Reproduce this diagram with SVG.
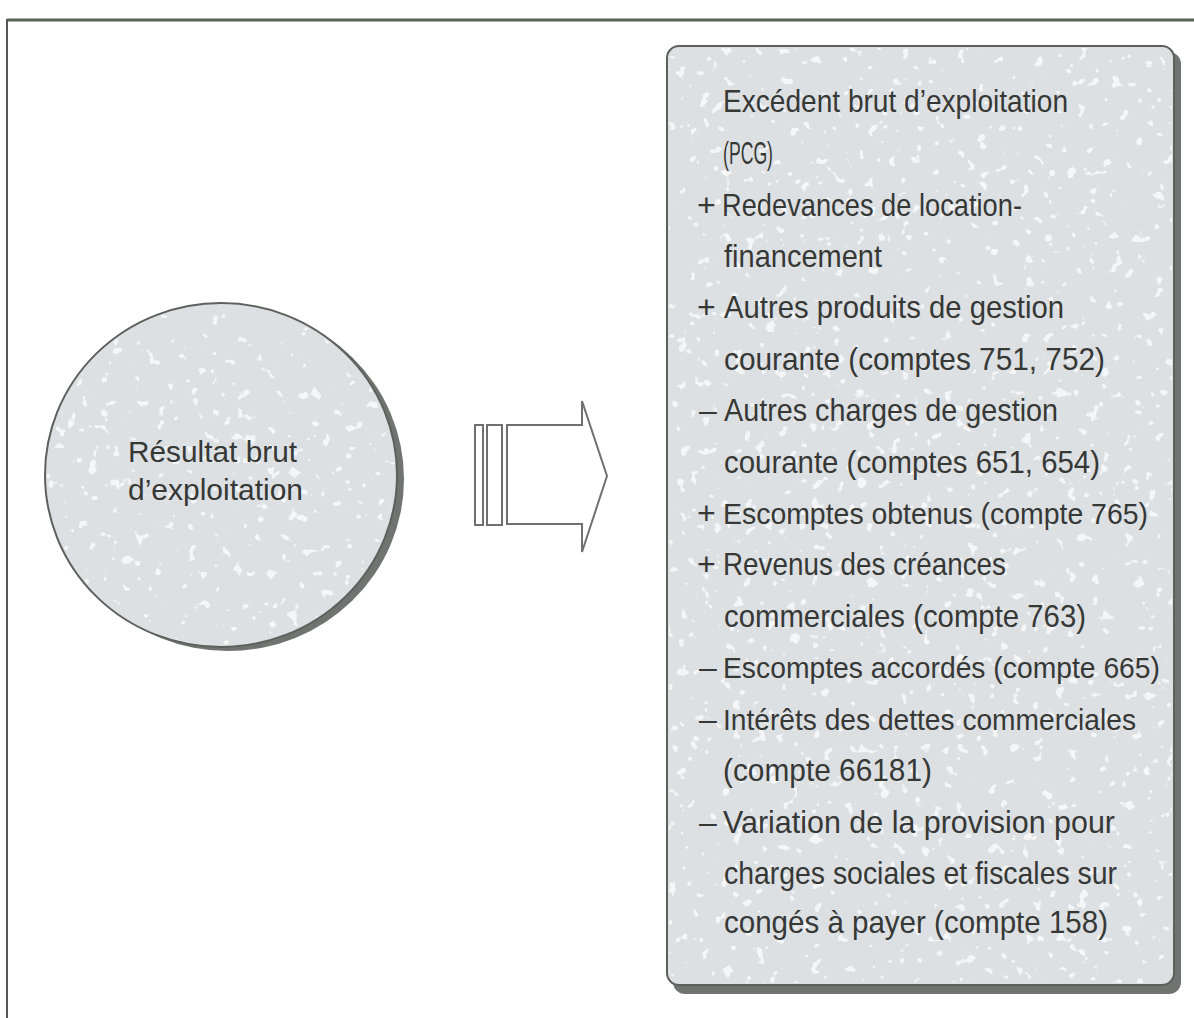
<svg xmlns="http://www.w3.org/2000/svg" width="1194" height="1018" viewBox="0 0 1194 1018">
  <style>
    .t { font-family: "Liberation Sans Narrow", "Liberation Sans", Arial, sans-serif; fill: #363836; }
    .bt { font-size: 32px; }
    .bs { font-size: 29px; }
    .ct { font-size: 30px; }
    .shadow { fill: #6f7470; }
    .face { fill: #dde0e3; stroke: #5d615d; stroke-width: 2; }
    .arrow { fill: #ffffff; stroke: #707070; stroke-width: 2; stroke-linejoin: miter; }
  </style>
  <defs>
    <filter id="speck" x="0" y="0" width="100%" height="100%">
      <feTurbulence type="fractalNoise" baseFrequency="0.09" numOctaves="2" seed="7"/>
      <feColorMatrix type="matrix" values="0 0 0 0 1  0 0 0 0 1  0 0 0 0 1  22 0 0 0 -14.6"/>
    </filter>
    <clipPath id="clipCircle"><ellipse cx="221" cy="475" rx="174" ry="170"/></clipPath>
    <clipPath id="clipBox"><rect x="669" y="48" width="503" height="935" rx="11"/></clipPath>
  </defs>
  <rect x="0" y="0" width="1194" height="1018" fill="#ffffff"/>
  <!-- frame -->
  <g id="frame">
    <line x1="7" y1="20" x2="1194" y2="20" stroke="#5a6358" stroke-width="3"/>
    <line x1="7" y1="19" x2="7" y2="1018" stroke="#555955" stroke-width="2"/>
  </g>

  <!-- circle node -->
  <g id="node-resultat">
    <ellipse class="shadow" cx="228" cy="479" rx="176" ry="172"/>
    <ellipse class="face" cx="221" cy="475" rx="176" ry="172"/>
    <rect x="45" y="303" width="352" height="345" filter="url(#speck)" clip-path="url(#clipCircle)" opacity="0.7"/>
    <text class="t ct" x="128" y="462" textLength="169" lengthAdjust="spacingAndGlyphs">Résultat brut</text>
    <text class="t ct" x="128" y="500" textLength="175" lengthAdjust="spacingAndGlyphs">d’exploitation</text>
  </g>

  <!-- connector: block arrow -->
  <g id="connectors">
    <rect class="arrow" x="475" y="425" width="8" height="100"/>
    <rect class="arrow" x="487" y="425" width="15" height="100"/>
    <polygon class="arrow" points="507,425 582,425 582,401 607,476 582,552 582,524 507,524"/>
  </g>

  <!-- box node -->
  <g id="node-ebe">
    <rect class="shadow" x="673" y="52" width="508" height="942" rx="12"/>
    <rect class="face" x="667" y="46" width="507" height="939" rx="12"/>
    <rect x="667" y="46" width="507" height="939" filter="url(#speck)" clip-path="url(#clipBox)" opacity="0.7"/>
    <text class="t bt" x="723" y="112" textLength="345" lengthAdjust="spacingAndGlyphs">Excédent brut d’exploitation</text>
    <text class="t bt" x="723" y="164" textLength="50" lengthAdjust="spacingAndGlyphs">(PCG)</text>
    <text class="t bt" x="697" y="216">+</text>
    <text class="t bt" x="722" y="216" textLength="300" lengthAdjust="spacingAndGlyphs">Redevances de location-</text>
    <text class="t bt" x="724" y="267" textLength="158" lengthAdjust="spacingAndGlyphs">financement</text>
    <text class="t bt" x="697" y="318">+</text>
    <text class="t bt" x="724" y="318" textLength="340" lengthAdjust="spacingAndGlyphs">Autres produits de gestion</text>
    <text class="t bt" x="724" y="370" textLength="381" lengthAdjust="spacingAndGlyphs">courante (comptes 751, 752)</text>
    <text class="t bt" x="699" y="421">–</text>
    <text class="t bt" x="724" y="421" textLength="334" lengthAdjust="spacingAndGlyphs">Autres charges de gestion</text>
    <text class="t bt" x="724" y="473" textLength="376" lengthAdjust="spacingAndGlyphs">courante (comptes 651, 654)</text>
    <text class="t bt" x="697" y="524">+</text>
    <text class="t bs" x="723" y="524" textLength="425" lengthAdjust="spacingAndGlyphs">Escomptes obtenus (compte 765)</text>
    <text class="t bt" x="697" y="575">+</text>
    <text class="t bt" x="723" y="575" textLength="283" lengthAdjust="spacingAndGlyphs">Revenus des créances</text>
    <text class="t bt" x="724" y="627" textLength="362" lengthAdjust="spacingAndGlyphs">commerciales (compte 763)</text>
    <text class="t bt" x="699" y="678">–</text>
    <text class="t bs" x="723" y="678" textLength="437" lengthAdjust="spacingAndGlyphs">Escomptes accordés (compte 665)</text>
    <text class="t bt" x="699" y="730">–</text>
    <text class="t bs" x="723" y="730" textLength="413" lengthAdjust="spacingAndGlyphs">Intérêts des dettes commerciales</text>
    <text class="t bt" x="723" y="781" textLength="209" lengthAdjust="spacingAndGlyphs">(compte 66181)</text>
    <text class="t bt" x="699" y="833">–</text>
    <text class="t bt" x="723" y="833" textLength="392" lengthAdjust="spacingAndGlyphs">Variation de la provision pour</text>
    <text class="t bt" x="724" y="884" textLength="393" lengthAdjust="spacingAndGlyphs">charges sociales et fiscales sur</text>
    <text class="t bt" x="724" y="933" textLength="384" lengthAdjust="spacingAndGlyphs">congés à payer (compte 158)</text>
  </g>
</svg>
